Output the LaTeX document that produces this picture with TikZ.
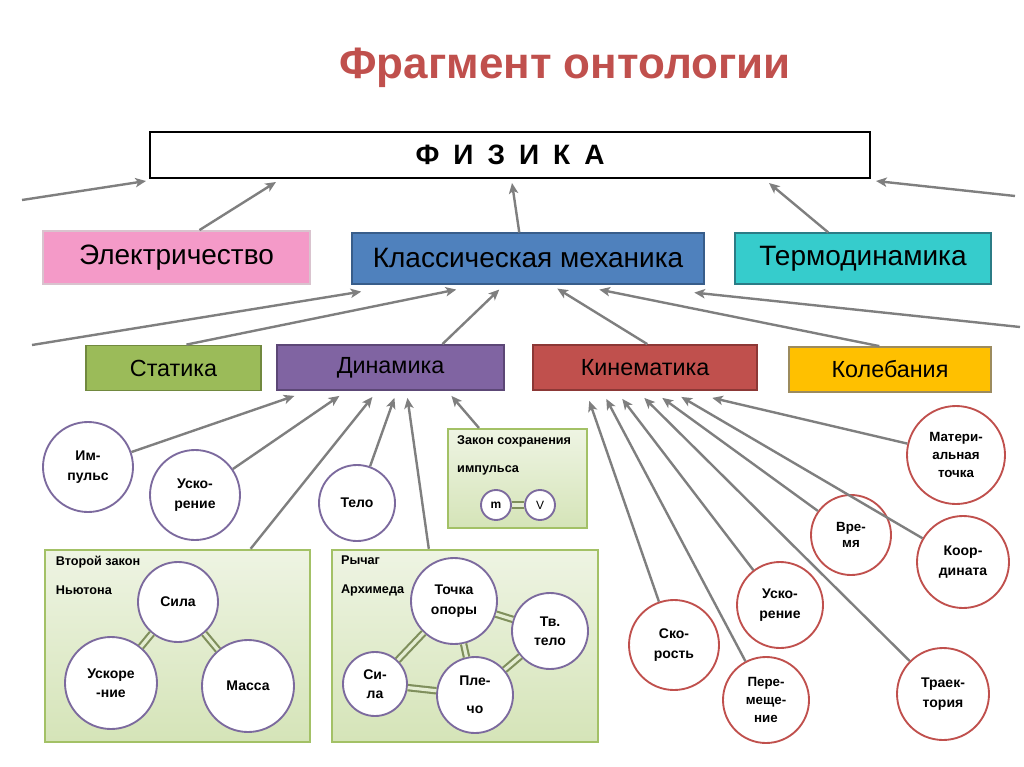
\documentclass[tikz,border=0pt]{standalone}
\usepackage{fontspec}
\setmainfont{Liberation Sans}
\usetikzlibrary{
  positioning,
  arrows.meta,
  calc
}

\definecolor{titlered}{HTML}{C0504D}
\definecolor{elecfill}{HTML}{F49AC8}
\definecolor{elecline}{HTML}{D9C3CE}
\definecolor{mechfill}{HTML}{4F81BD}
\definecolor{mechline}{HTML}{385D8A}
\definecolor{thermofill}{HTML}{36CCCC}
\definecolor{thermoline}{HTML}{2B7C86}
\definecolor{statfill}{HTML}{9BBB59}
\definecolor{statline}{HTML}{71893F}
\definecolor{dynfill}{HTML}{8064A2}
\definecolor{dynline}{HTML}{5C4776}
\definecolor{kinfill}{HTML}{C0504D}
\definecolor{kinline}{HTML}{8C3836}
\definecolor{oscfill}{HTML}{FFC000}
\definecolor{oscline}{HTML}{9C8B5E}
\definecolor{lawtop}{HTML}{EEF4E3}
\definecolor{lawbottom}{HTML}{D5E4B8}
\definecolor{lawline}{HTML}{A3C166}
\definecolor{dynring}{HTML}{7C6A9E}
\definecolor{kinring}{HTML}{C0504D}
\definecolor{arrowgray}{HTML}{7F7F7F}
\definecolor{linkgreen}{HTML}{7F8F5C}
\definecolor{linkfill}{HTML}{E4EDD2}

\begin{document}
\begin{tikzpicture}[
    x=0.75pt, y=-0.75pt,
    every node/.style={font=\small},
    catbox/.style={
        rectangle,
        draw=black,
        line width=1.1pt,
        align=center,
        inner sep=0pt,
        font=\fontsize{21}{24}\selectfont
    },
    subbox/.style={
        rectangle,
        draw=black,
        line width=1.1pt,
        align=center,
        inner sep=0pt,
        minimum height=34pt,
        font=\fontsize{17.5}{20}\selectfont
    },
    lawbox/.style={
        rectangle,
        draw=lawline,
        line width=1.8pt,
        top color=lawtop,
        bottom color=lawbottom
    },
    lawlabel/.style={
        anchor=north west,
        align=left,
        inner sep=0pt,
        font=\bfseries\fontsize{9.5}{21.5}\selectfont
    },
    dyncircle/.style={
        circle,
        draw=dynring,
        line width=1.4pt,
        fill=white,
        align=center,
        inner sep=0pt,
        font=\bfseries\fontsize{10.5}{14.5}\selectfont
    },
    kincircle/.style={
        dyncircle,
        draw=kinring
    },
    arrow/.style={-{Stealth[length=8pt,width=7pt,inset=2pt]}, draw=arrowgray, line width=1.8pt},
    link/.style={draw=linkgreen, double=linkfill, line width=1.6pt, double distance=2.4pt}
]
\useasboundingbox (0,0) rectangle (1024,767);

% Title
\node[font=\bfseries\fontsize{33}{38}\selectfont, text=titlered] (title) at (565,68) {Фрагмент онтологии};

% Top level
\node[catbox, fill=white, line width=1.5pt, minimum width=540pt, minimum height=34.5pt,
      font=\bfseries\fontsize{21}{24}\selectfont] (phys) at (510,155)
      {Ф\hspace{0.5em}И\hspace{0.5em}З\hspace{0.5em}И\hspace{0.5em}К\hspace{0.5em}А};

% Branches of physics
\node[catbox, fill=elecfill, draw=elecline, minimum width=200pt, minimum height=40pt] (elec) at (176.5,257.5) {Электричество};
\node[catbox, fill=mechfill, draw=mechline, minimum width=264pt, minimum height=38pt] (mech) at (528,258.5) {Классическая механика};
\node[catbox, fill=thermofill, draw=thermoline, minimum width=192pt, minimum height=38pt] (thermo) at (863,258.5) {Термодинамика};

% Branches of mechanics
\node[subbox, fill=statfill, draw=statline, minimum width=131pt] (stat) at (173.5,368) {Статика};
\node[subbox, fill=dynfill, draw=dynline, minimum width=170pt] (dyn) at (390.5,367.5) {Динамика};
\node[subbox, fill=kinfill, draw=kinline, minimum width=168pt] (kin) at (645,367.5) {Кинематика};
\node[subbox, fill=oscfill, draw=oscline, minimum width=151.5pt] (osc) at (890,369.5) {Колебания};

% Dynamics concepts
\node[dyncircle, minimum size=67.5pt] (impulse) at (88,467) {Им-\\пульс};
\node[dyncircle, minimum size=67.5pt] (accdyn) at (195,495) {Уско-\\рение};
\node[dyncircle, minimum size=57pt] (body) at (357,503) {Тело};

% Laws
\node[lawbox, minimum width=199pt, minimum height=144pt] (newton) at (177.5,646) {};
\node[lawlabel] (newtonlbl) at ($(newton.north west)+(12,7)$) {Второй закон\\Ньютона};
\node[lawbox, minimum width=199.5pt, minimum height=144pt] (lever) at (465,646) {};
\node[lawlabel] (leverlbl) at ($(lever.north west)+(10,7)$) {Рычаг\\Архимеда};
\node[lawbox, minimum width=104pt, minimum height=74pt] (conserv) at (517.5,478.5) {};
\node[lawlabel] (conservlbl) at ($(conserv.north west)+(10,7)$) {Закон сохранения\\импульса};

% Second law of Newton
\node[dyncircle, minimum size=60pt] (force) at (178,602) {Сила};
\node[dyncircle, minimum size=69pt] (accnewton) at (111,683) {Ускоре\\-ние};
\node[dyncircle, minimum size=69pt] (mass) at (248,686) {Масса};

% Lever of Archimedes
\node[dyncircle, minimum size=64.5pt] (pivot) at (454,601) {Точка\\опоры};
\node[dyncircle, minimum size=57pt] (solid) at (550,631) {Тв.\\тело};
\node[dyncircle, minimum size=57pt, font=\bfseries\fontsize{10.5}{21}\selectfont] (arm) at (475,695) {Пле-\\чо};
\node[dyncircle, minimum size=48pt] (leverforce) at (375,684) {Си-\\ла};

% Conservation of momentum
\node[dyncircle, minimum size=22.5pt, font=\bfseries\fontsize{9}{11}\selectfont] (mnode) at (496,505) {m};
\node[dyncircle, minimum size=22.5pt, font=\fontsize{9}{11}\selectfont] (vnode) at (540,505) {V};

% Kinematics concepts
\node[kincircle, minimum size=73.5pt, font=\bfseries\fontsize{10}{13.8}\selectfont] (matpoint) at (956,455) {Матери-\\альная\\точка};
\node[kincircle, minimum size=60pt, font=\bfseries\fontsize{10}{12}\selectfont] (time) at (851,535) {Вре-\\мя};
\node[kincircle, minimum size=69pt] (coord) at (963,562) {Коор-\\дината};
\node[kincircle, minimum size=64.5pt] (acckin) at (780,605) {Уско-\\рение};
\node[kincircle, minimum size=67.5pt] (speed) at (674,645) {Ско-\\рость};
\node[kincircle, minimum size=64.5pt, font=\bfseries\fontsize{10}{13.5}\selectfont] (displ) at (766,700) {Пере-\\меще-\\ние};
\node[kincircle, minimum size=69pt] (traj) at (943,694) {Траек-\\тория};

% Free ends
\coordinate (leftin1) at (22,200);
\coordinate (rightin1) at (1015,196);
\coordinate (leftin2) at (32,345);
\coordinate (rightin2) at (1020,327);

% Links
\draw[link] (force) -- (accnewton);
\draw[link] (force) -- (mass);
\draw[link] (leverforce) -- (pivot);
\draw[link] (leverforce) -- (arm);
\draw[link] (pivot) -- (arm);
\draw[link] (pivot) -- (solid);
\draw[link] (solid) -- (arm);
\draw[link] (mnode) -- (vnode);

% Arrows to physics
\draw[arrow] (leftin1) -- ($(phys.south west)+(-3,2)$);
\draw[arrow] ($(elec.north west)+(157,0)$) -- ($(phys.south west)+(127,3)$);
\draw[arrow] ($(mech.north west)+(168,0)$) -- ($(phys.south west)+(363,4)$);
\draw[arrow] ($(thermo.north west)+(94,0)$) -- ($(phys.south west)+(620,4)$);
\draw[arrow] (rightin1) -- ($(phys.south east)+(5,2)$);

% Arrows to mechanics
\draw[arrow] (leftin2) -- ($(mech.south west)+(10,7)$);
\draw[arrow] ($(stat.north west)+(101,0)$) -- ($(mech.south west)+(105,5)$);
\draw[arrow] ($(dyn.north west)+(166,0)$) -- ($(mech.south west)+(148,5)$);
\draw[arrow] ($(kin.north west)+(115,0)$) -- ($(mech.south west)+(206,4)$);
\draw[arrow] ($(osc.north west)+(91,0)$) -- ($(mech.south west)+(248,5)$);
\draw[arrow] (rightin2) -- ($(mech.south west)+(343,8)$);

% Arrows to dynamics
\draw[arrow] (impulse) -- ($(dyn.south west)+(18,5)$);
\draw[arrow] (accdyn) -- ($(dyn.south west)+(63,5)$);
\draw[arrow] ($(newton.north west)+(207,0)$) -- ($(dyn.south west)+(96,6)$);
\draw[arrow] (body) -- ($(dyn.south west)+(118,7)$);
\draw[arrow] ($(lever.north west)+(98,0)$) -- ($(dyn.south west)+(131,7)$);
\draw[arrow] ($(conserv.north west)+(32,0)$) -- ($(dyn.south west)+(175,5)$);

% Arrows to kinematics
\draw[arrow] (speed) -- ($(kin.south west)+(57,10)$);
\draw[arrow] (displ) -- ($(kin.south west)+(74,8)$);
\draw[arrow] (acckin) -- ($(kin.south west)+(90,8)$);
\draw[arrow] (traj) -- ($(kin.south west)+(112,7)$);
\draw[arrow] (time) -- ($(kin.south west)+(130,7)$);
\draw[arrow] (coord) -- ($(kin.south west)+(149,6)$);
\draw[arrow] (matpoint) -- ($(kin.south west)+(180,7)$);

\end{tikzpicture}
\end{document}
